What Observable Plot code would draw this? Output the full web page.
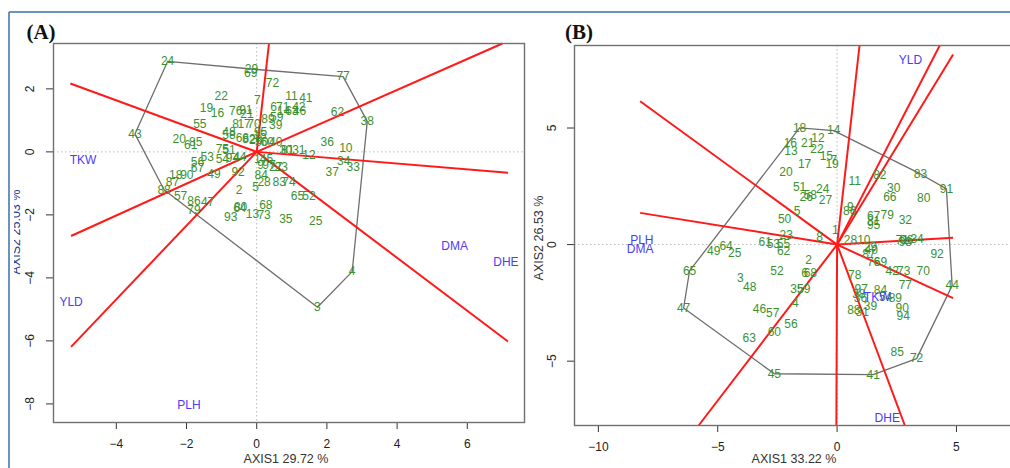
<!DOCTYPE html>
<html><head><meta charset="utf-8">
<script src="https://cdn.jsdelivr.net/npm/d3@7"></script>
<script src="https://cdn.jsdelivr.net/npm/@observablehq/plot@0.6"></script>
<style>
html,body{margin:0;padding:0;background:#fff;overflow:hidden;width:1010px;height:468px;}
#wrap{position:relative;width:1010px;height:468px;overflow:hidden;font-family:"Liberation Sans",Arial,sans-serif;}
#wrap > svg, #wrap > div{position:absolute;}
</style></head><body><div id="wrap"></div>
<script>
// ---------- Panel A data ----------
const genoA_id = ["24","29","69","77","72","22","11","41","7","19","16","76","91","21","6","71","14","63","42","46","62","38","55","8","17","70","89","59","39","43","48","58","66","82","95","15","26","50","60","40","30","81","31","12","36","10","20","85","61","75","51","53","54","94","44","56","67","18","90","87","88","49","92","1","45","9","97","27","23","84","28","5","83","74","2","57","86","47","79","65","52","68","64","80","93","13","73","35","25","3","4","34","33","37"];
const genoA_x = [-2.54,-0.15,-0.17,2.46,0.45,-1.01,0.99,1.40,0.02,-1.43,-1.12,-0.60,-0.31,-0.28,0.48,0.74,0.77,1.00,1.20,1.22,2.30,3.15,-1.62,-0.60,-0.36,-0.08,0.32,0.57,0.54,-3.47,-0.79,-0.79,-0.41,-0.22,0.11,0.09,-0.03,0.14,0.30,0.54,0.83,0.88,1.20,1.49,2.01,2.54,-2.21,-1.74,-1.88,-0.98,-0.79,-1.41,-0.98,-0.69,-0.48,-1.69,-1.69,-2.31,-1.99,-2.40,-2.64,-1.22,-0.53,0.02,0.28,0.11,0.35,0.54,0.70,0.13,0.21,-0.03,0.64,0.92,-0.50,-2.17,-1.79,-1.40,-1.79,1.16,1.49,0.26,-0.48,-0.46,-0.74,-0.12,0.21,0.83,1.68,1.73,2.72,2.48,2.75,2.15];
const genoA_y = [2.87,2.63,2.50,2.39,2.18,1.77,1.76,1.70,1.63,1.40,1.24,1.28,1.31,1.20,1.42,1.41,1.30,1.30,1.41,1.30,1.26,0.97,0.89,0.89,0.89,0.89,1.03,1.09,0.86,0.57,0.62,0.52,0.44,0.41,0.62,0.52,0.36,0.30,0.30,0.30,0.04,0.07,0.04,-0.10,0.30,0.13,0.41,0.30,0.22,0.10,0.07,-0.17,-0.22,-0.19,-0.17,-0.33,-0.52,-0.75,-0.75,-0.97,-1.20,-0.70,-0.65,-0.22,-0.22,-0.43,-0.43,-0.49,-0.49,-0.75,-0.97,-1.12,-0.97,-0.97,-1.20,-1.42,-1.55,-1.60,-1.86,-1.42,-1.42,-1.68,-1.79,-1.74,-2.08,-1.97,-2.00,-2.13,-2.21,-4.93,-3.80,-0.31,-0.49,-0.65];
const hullA = ["24","29","77","38","4","3","88","43"];
const vecA_x = [-5.31,0.35,7.00,7.16,7.16,-5.29,-5.29];
const vecA_y = [2.17,3.44,3.44,-0.66,-6.02,-6.19,-2.67];
const traitA_name = ["TKW","DMA","DHE","YLD","PLH"];
const traitA_x = [-4.95,5.64,7.10,-5.29,-1.93];
const traitA_y = [-0.25,-2.98,-3.51,-4.76,-8.04];
const xTicksA = [-4,-2,0,2,4,6];
const yTicksA = [2,0,-2,-4,-6,-8];

// ---------- Panel B data ----------
const genoB_id = ["18","14","16","13","21","12","22","15","7","19","17","20","11","82","83","91","30","66","80","51","24","26","58","27","5","50","9","86","67","79","81","95","32","1","23","8","28","10","71","96","93","34","61","53","55","62","64","49","25","65","47","3","48","52","2","6","68","35","59","4","46","57","56","60","63","45","41","85","72","29","40","87","76","69","92","42","73","70","78","77","44","97","38","36","84","89","39","88","31","90","94","54"];
const genoB_x = [-1.57,-0.14,-1.96,-1.93,-1.23,-0.80,-0.84,-0.45,-0.14,-0.21,-1.36,-2.14,0.74,1.79,3.49,4.58,2.37,2.21,3.63,-1.57,-0.60,-1.29,-1.12,-0.49,-1.68,-2.20,0.56,0.53,1.53,2.10,1.53,1.53,2.86,-0.07,-2.13,-0.73,0.56,1.12,2.73,2.91,2.86,3.35,-3.01,-2.67,-2.25,-2.24,-4.65,-5.17,-4.29,-6.18,-6.43,-4.05,-3.66,-2.52,-1.19,-1.36,-1.12,-1.68,-1.40,-1.75,-3.25,-2.70,-1.93,-2.63,-3.68,-2.63,1.51,2.52,3.33,1.40,1.43,1.33,1.53,1.82,4.19,2.31,2.79,3.61,0.74,2.86,4.82,1.01,0.91,0.98,1.82,2.44,1.40,0.70,1.05,2.73,2.77,2.03];
const genoB_y = [5.01,4.89,4.36,4.00,4.35,4.58,4.08,3.78,3.61,3.46,3.43,3.10,2.72,2.96,3.03,2.39,2.42,2.03,2.00,2.46,2.39,2.03,2.10,1.89,1.43,1.07,1.60,1.43,1.20,1.27,1.00,0.85,1.03,0.60,0.39,0.31,0.17,0.20,0.20,0.17,0.10,0.24,0.09,0.04,0.04,-0.29,-0.06,-0.29,-0.36,-1.13,-2.72,-1.43,-1.82,-1.15,-0.67,-1.21,-1.21,-1.93,-1.93,-2.53,-2.75,-2.96,-3.42,-3.75,-4.00,-5.54,-5.58,-4.61,-4.89,-0.09,-0.23,-0.40,-0.76,-0.76,-0.40,-1.12,-1.12,-1.12,-1.33,-1.76,-1.76,-1.93,-2.12,-2.29,-1.97,-2.29,-2.62,-2.83,-2.90,-2.72,-3.05,-2.26];
const hullB = ["18","14","83","91","44","72","41","45","47","65"];
const vecB_x = [-8.25,-8.25,0.94,4.30,4.86,4.86,4.86,-0.03,2.84,-5.80];
const vecB_y = [6.15,1.36,8.54,8.54,8.15,0.29,-2.30,-7.76,-7.76,-7.76];
const traitB_name = ["YLD","PLH","DMA","TKW","DHE"];
const traitB_x = [3.07,-8.18,-8.25,1.68,2.10];
const traitB_y = [7.93,0.18,-0.20,-2.24,-7.44];
const xTicksB = [-10,-5,0,5];
const yTicksB = [5,0,-5];

const GREEN = "#3a9130", BLUE = "#4b3cf5", RED = "#ff1a1a", HULL = "#6e6e6e";
const FONT = "'Liberation Sans', Arial, sans-serif";
const fmt = d => (d < 0 ? "\u2212" + Math.abs(d) : String(d));

function panel(o) {
  const pts = o.ids.map((id, i) => ({id, x: o.xs[i], y: o.ys[i]}));
  const byId = new Map(pts.map(p => [p.id, p]));
  const hull = o.hull.map(id => byId.get(id));
  hull.push(hull[0]);
  const vec = o.vx.map((x, i) => ({x2: x, y2: o.vy[i]}));
  const traits = o.tn.map((n, i) => ({n, x: o.tx[i], y: o.ty[i]}));
  return Plot.plot({
    width: o.w, height: o.h,
    marginLeft: o.ml, marginTop: o.mt, marginRight: o.mr, marginBottom: o.mb,
    x: {domain: o.xd, ticks: o.xt, tickSize: 7, tickFormat: () => "", label: null},
    y: {domain: o.yd, ticks: o.yt, tickSize: 7, tickFormat: () => "", label: null},
    style: {fontFamily: FONT, fontSize: "12px", background: "transparent", color: "#333", overflow: "visible"},
    marks: [
      Plot.ruleX([0], {stroke: "#b8b8b8", strokeDasharray: "1.5,2.5", strokeWidth: 1}),
      Plot.ruleY([0], {stroke: "#b8b8b8", strokeDasharray: "1.5,2.5", strokeWidth: 1}),
      Plot.line(hull, {x: "x", y: "y", stroke: HULL, strokeWidth: 1.3}),
      Plot.link(vec, {x1: 0, y1: 0, x2: "x2", y2: "y2", stroke: RED, strokeWidth: 2}),
      Plot.text(pts, {x: "x", y: "y", text: "id", fill: GREEN, fontSize: 12}),
      Plot.text(traits, {x: "x", y: "y", text: "n", fill: BLUE, fontSize: 12}),
      Plot.frame({stroke: "#707070", strokeWidth: 1.4}),
      Plot.text(o.xt, {x: d => d, y: o.yd[0], text: fmt, dy: o.xdy, fill: "#222", fontSize: 12}),
      Plot.text(o.yt, {x: o.xd[0], y: d => d, text: fmt, rotate: -90, dx: o.ydx, fill: "#222", fontSize: 12})
    ]
  });
}

const wrap = document.getElementById("wrap");

const pA = panel({ids: genoA_id, xs: genoA_x, ys: genoA_y, hull: hullA,
  vx: vecA_x, vy: vecA_y, tn: traitA_name, tx: traitA_x, ty: traitA_y,
  xd: [-5.79, 7.63], yd: [-8.59, 3.44], xt: xTicksA, yt: yTicksA,
  w: 530, h: 468, ml: 53, mt: 43, mr: 6, mb: 46, xdy: 22, ydx: -23});
pA.style.left = "0px"; pA.style.top = "0px";
wrap.appendChild(pA);

const pB = panel({ids: genoB_id, xs: genoB_x, ys: genoB_y, hull: hullB,
  vx: vecB_x, vy: vecB_y, tn: traitB_name, tx: traitB_x, ty: traitB_y,
  xd: [-11.0, 8.94], yd: [-7.76, 8.54], xt: xTicksB, yt: yTicksB,
  w: 520, h: 468, ml: 44, mt: 45, mr: 0, mb: 43, xdy: 22, ydx: -22});
pB.style.left = "530px"; pB.style.top = "0px";
wrap.appendChild(pB);

// ---------- overlay: page border, panel letters, axis titles ----------
const NS = "http://www.w3.org/2000/svg";
const ov = document.createElementNS(NS, "svg");
ov.setAttribute("width", 1010); ov.setAttribute("height", 468);
ov.style.left = "0px"; ov.style.top = "0px";
ov.innerHTML = `
  <defs><clipPath id="clipA"><rect x="14" y="150" width="20" height="170"/></clipPath></defs>
  <line x1="9" y1="12" x2="1010" y2="12" stroke="#3f6ea6" stroke-width="1.5"/>
  <line x1="9" y1="12" x2="9" y2="468" stroke="#3f6ea6" stroke-width="1.5"/>
  <text x="41" y="39" text-anchor="middle" font-family="'Liberation Serif', 'Times New Roman', serif" font-weight="bold" font-size="21" fill="#111">(A)</text>
  <text x="579" y="39" text-anchor="middle" font-family="'Liberation Serif', 'Times New Roman', serif" font-weight="bold" font-size="21" fill="#111">(B)</text>
  <text x="286" y="463" text-anchor="middle" font-family="${FONT}" font-size="12.5" fill="#333">AXIS1 29.72 %</text>
  <text x="794" y="463" text-anchor="middle" font-family="${FONT}" font-size="12.5" fill="#333">AXIS1 33.22 %</text>
  <text transform="translate(543,238) rotate(-90)" text-anchor="middle" font-family="${FONT}" font-size="12.5" fill="#333">AXIS2 26.53 %</text>
  <g clip-path="url(#clipA)"><text transform="translate(20,232) rotate(-90)" text-anchor="middle" font-family="${FONT}" font-size="12.5" fill="#2b3a86">AXIS2 25.03 %</text></g>
`;
wrap.appendChild(ov);
</script>
</body></html>
